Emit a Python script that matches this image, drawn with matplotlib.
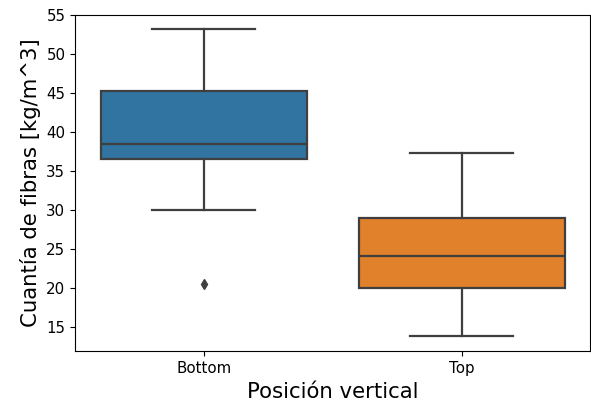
import matplotlib
matplotlib.use("Agg")
import matplotlib.pyplot as plt

categories = ["Bottom", "Top"]
whislo = [30.1, 13.9]
q1 = [36.6, 20.1]
med = [38.5, 24.1]
q3 = [45.3, 29.0]
whishi = [53.3, 37.4]
fliers = [[20.5], []]
colors = ["#3274a1", "#e1812c"]

stats = []
for i, c in enumerate(categories):
    stats.append(dict(label=c, whislo=whislo[i], q1=q1[i], med=med[i],
                      q3=q3[i], whishi=whishi[i], fliers=fliers[i]))

fig = plt.figure(figsize=(5.91, 4.03), dpi=100)
ax = fig.add_axes([0.127, 0.128, 0.872, 0.8355])

lc = "#3f3f3f"
bp = ax.bxp(stats, positions=range(len(categories)), widths=0.8,
            patch_artist=True, showfliers=True,
            boxprops=dict(edgecolor=lc, linewidth=1.6),
            whiskerprops=dict(color=lc, linewidth=1.6),
            capprops=dict(color=lc, linewidth=1.6),
            medianprops=dict(color=lc, linewidth=1.6),
            flierprops=dict(marker="d", markerfacecolor=lc, markeredgecolor=lc,
                            markersize=5, linestyle="none"),
            capwidths=0.4)
for patch, col in zip(bp["boxes"], colors):
    patch.set_facecolor(col)

ax.set_xlim(-0.5, 1.5)
ax.set_ylim(11.9, 55.1)
ax.set_yticks([15, 20, 25, 30, 35, 40, 45, 50, 55])
ax.set_xticks(range(len(categories)))
ax.set_xticklabels(categories)
ax.tick_params(labelsize=10.8)
ax.set_xlabel("Posición vertical", fontsize=15.3)
ax.set_ylabel("Cuantía de fibras [kg/m^3]", fontsize=15.3)

fig.savefig("out.png", dpi=100)
